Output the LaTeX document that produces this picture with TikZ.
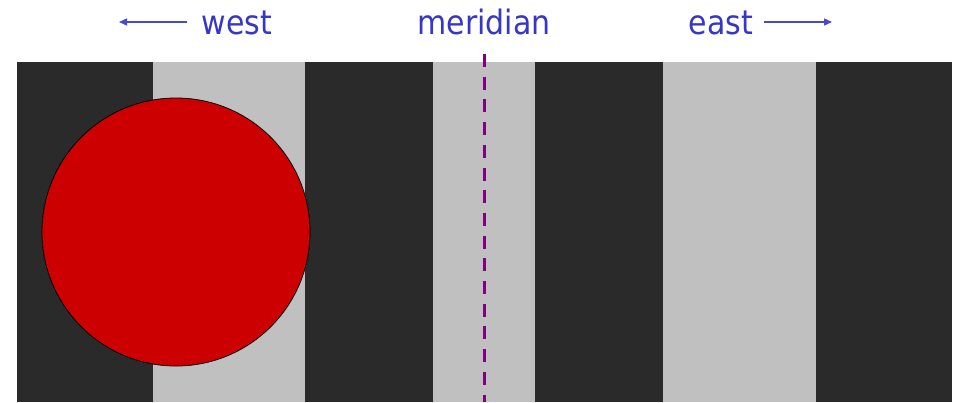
\documentclass[tikz,border=0pt]{standalone}
\usepackage{fontspec}
\setmainfont{DejaVu Sans}
\usetikzlibrary{arrows.meta}
\definecolor{darkstripe}{HTML}{2A2A2A}
\definecolor{lightstripe}{HTML}{C0C0C0}
\definecolor{sunred}{HTML}{CC0000}
\definecolor{labelblue}{HTML}{3636C8}
\definecolor{arrowblue}{HTML}{4848D0}
\definecolor{meridianpurple}{HTML}{800080}
\tikzset{
  lbl/.style={text=labelblue, font=\fontsize{30}{32}\selectfont, anchor=base, inner sep=0pt, yscale=1.12},
  dirarrow/.style={draw=arrowblue, line width=1.3pt, -{Triangle[length=8pt,width=7pt]}},
  darkband/.style={fill=darkstripe},
  lightband/.style={fill=lightstripe},
  meridianline/.style={draw=meridianpurple, line width=3pt, dash pattern=on 13pt off 9.7pt}
}
\begin{document}
\begin{tikzpicture}[x=1pt,y=-1pt]
\useasboundingbox (0,0) rectangle (958,402);
\fill[white] (0,0) rectangle (958,402);
% stripes
\fill[darkband] (17,62) rectangle (153,402);
\fill[lightband] (153,62) rectangle (305,402);
\fill[darkband] (305,62) rectangle (433,402);
\fill[lightband] (433,62) rectangle (535,402);
\fill[darkband] (535,62) rectangle (663,402);
\fill[lightband] (663,62) rectangle (816,402);
\fill[darkband] (816,62) rectangle (952,402);
% sun
\node[circle, draw=black, line width=0.8pt, fill=sunred, minimum size=268pt, inner sep=0pt] (sun) at (176,232) {};
% meridian
\coordinate (mtop) at (484,54);
\coordinate (mbot) at (484,402);
\draw[meridianline] (mtop) -- (mbot);
% labels
\node[lbl, transform shape] (west) at (237,34) {west};
\node[lbl, transform shape] (meridian) at (484,34) {meridian};
\node[lbl, transform shape] (east) at (721,34) {east};
% arrows
\coordinate (wstart) at (187,22);
\coordinate (wend) at (119,22);
\coordinate (estart) at (764,22);
\coordinate (eend) at (832,22);
\draw[dirarrow] (wstart) -- (wend);
\draw[dirarrow] (estart) -- (eend);
\end{tikzpicture}
\end{document}
